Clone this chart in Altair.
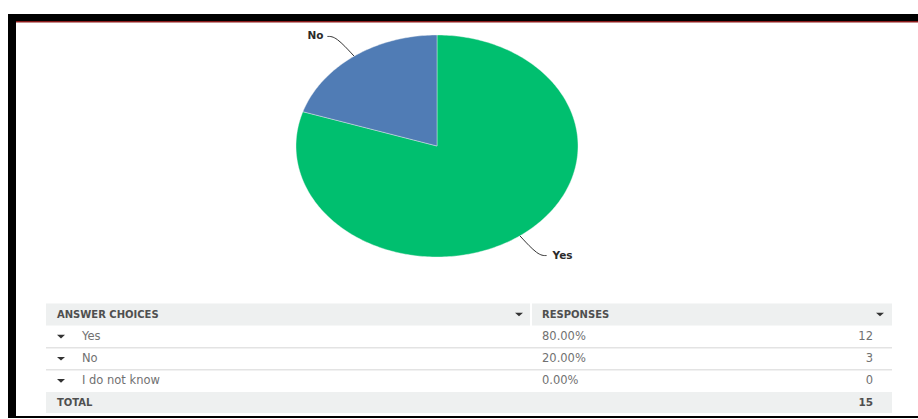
import altair as alt
import pandas as pd
import numpy as np

# ---------------- data ----------------
choices = ["Yes", "No", "I do not know"]
responses = [12, 3, 0]
percents = ["80.00%", "20.00%", "0.00%"]
total_label = "TOTAL"
total_count = 15
header_left = "ANSWER CHOICES"
header_right = "RESPONSES"
slice_colors = ["#00bf6f", "#507cb5", "#f9be00"]

FONT = "DejaVu Sans"
total = sum(responses)

# ---------------- pie geometry (elliptical pie built from the values) ----------------
pie_rows, lead_rows, lab_rows = [], [], []
cum = 0
for name, v in zip(choices, responses):
    if v <= 0:
        continue
    a0 = cum / total * 2 * np.pi
    a1 = (cum + v) / total * 2 * np.pi
    m = (a0 + a1) / 2
    cum += v
    steps = max(int(np.degrees(a1 - a0)), 2)
    pts = [(0.0, 0.0)] + [(np.sin(t), np.cos(t)) for t in np.linspace(a0, a1, steps + 1)] + [(0.0, 0.0)]
    for i, (x, y) in enumerate(pts):
        pie_rows.append(dict(cat=name, i=i, px=x, py=y))
    sx, sy = np.sin(m), np.cos(m)
    side = "right" if sx >= 0 else "left"
    sgn = 1 if sx >= 0 else -1
    lp = [(sx, sy), (1.22 * sx, 1.22 * sy), (1.22 * sx + sgn * 0.06, 1.22 * sy)]
    for i, (x, y) in enumerate(lp):
        lead_rows.append(dict(cat=name, i=i, px=x, py=y))
    lab_rows.append(dict(cat=name, px=lp[-1][0], py=lp[-1][1], side=side))

pie_df = pd.DataFrame(pie_rows)
lead_df = pd.DataFrame(lead_rows)
lab_df = pd.DataFrame(lab_rows)

xs = alt.Scale(domain=[-1, 1], range=[296, 578], nice=False, zero=False)
ys = alt.Scale(domain=[-1, 1], range=[257, 35], nice=False, zero=False)

pie = alt.Chart(pie_df).mark_line(stroke="#f4f4f4", strokeWidth=0.4).encode(
    x=alt.X("px:Q", scale=xs, axis=None),
    y=alt.Y("py:Q", scale=ys, axis=None),
    order="i:Q",
    detail="cat:N",
    fill=alt.Fill("cat:N", scale=alt.Scale(domain=choices, range=slice_colors), legend=None),
)

leaders = alt.Chart(lead_df).mark_line(color="#333333", strokeWidth=1, interpolate="basis").encode(
    x=alt.X("px:Q", scale=xs, axis=None),
    y=alt.Y("py:Q", scale=ys, axis=None),
    order="i:Q",
    detail="cat:N",
)

lab_right = alt.Chart(lab_df).transform_filter(alt.datum.side == "right").mark_text(
    align="left", baseline="middle", dx=6, font=FONT, fontSize=10.5, fontWeight="bold", color="#2b2b2b"
).encode(
    x=alt.X("px:Q", scale=xs, axis=None),
    y=alt.Y("py:Q", scale=ys, axis=None),
    text="cat:N",
)
lab_left = alt.Chart(lab_df).transform_filter(alt.datum.side == "left").mark_text(
    align="right", baseline="middle", dx=-4, font=FONT, fontSize=10.5, fontWeight="bold", color="#2b2b2b"
).encode(
    x=alt.X("px:Q", scale=xs, axis=None),
    y=alt.Y("py:Q", scale=ys, axis=None),
    text="cat:N",
)

# ---------------- table ----------------
ty = alt.Scale(domain=[0, 4], range=[314.5, 403], nice=False, zero=False)

body_df = pd.DataFrame({
    "row": [1, 2, 3],
    "choice": choices,
    "pct": percents,
    "count": [str(c) for c in responses],
})
body_df["r0"] = body_df["row"] - 0.5
body_df["r1"] = body_df["row"] + 0.5

head_df = pd.DataFrame({"row": [0], "r0": [-0.5], "r1": [0.5], "left": [header_left], "right": [header_right]})
tot_df = pd.DataFrame({"row": [4], "r0": [3.5], "r1": [4.45], "label": [total_label], "count": [str(total_count)]})
sep_df = pd.DataFrame({"b": [1.5, 2.5]})

HEAD_BG = "#eef0f0"

head_bg_l = alt.Chart(head_df).mark_rect(color=HEAD_BG).encode(
    x=alt.value(46), x2=alt.value(530),
    y=alt.Y("r0:Q", scale=ty, axis=None), y2="r1:Q")
head_bg_r = alt.Chart(head_df).mark_rect(color=HEAD_BG).encode(
    x=alt.value(532), x2=alt.value(892),
    y=alt.Y("r0:Q", scale=ty, axis=None), y2="r1:Q")
tot_bg = alt.Chart(tot_df).mark_rect(color=HEAD_BG).encode(
    x=alt.value(46), x2=alt.value(892),
    y=alt.Y("r0:Q", scale=ty, axis=None), y2="r1:Q")
seps = alt.Chart(sep_df).mark_rule(color="#e3e3e3", strokeWidth=1.5).encode(
    x=alt.value(46), x2=alt.value(892),
    y=alt.Y("b:Q", scale=ty, axis=None))

def txt(df, field, x, align="left", bold=False, color="#717171", size=11.5):
    return alt.Chart(df).mark_text(
        align=align, baseline="middle", font=FONT, fontSize=size,
        fontWeight="bold" if bold else "normal", color=color,
    ).encode(x=alt.value(x), y=alt.Y("row:Q", scale=ty, axis=None), text=f"{field}:N")

head_l = txt(head_df, "left", 57, bold=True, color="#4f4f4f", size=10)
head_r = txt(head_df, "right", 542, bold=True, color="#4f4f4f", size=10)
col_choice = txt(body_df, "choice", 82)
col_pct = txt(body_df, "pct", 542)
col_cnt = txt(body_df, "count", 873, align="right")
tot_l = txt(tot_df, "label", 57, bold=True, color="#4f4f4f", size=10)
tot_r = txt(tot_df, "count", 873, align="right", bold=True, color="#4f4f4f", size=10.5)

ARROW = "M-1,-0.45L1,-0.45L0,0.45Z"
arrows_body = alt.Chart(body_df).mark_point(shape=ARROW, filled=True, size=64, color="#333333", opacity=1).encode(
    x=alt.value(61), y=alt.Y("row:Q", scale=ty, axis=None))
arrow_h1 = alt.Chart(head_df).mark_point(shape=ARROW, filled=True, size=64, color="#333333", opacity=1).encode(
    x=alt.value(519), y=alt.Y("row:Q", scale=ty, axis=None))
arrow_h2 = alt.Chart(head_df).mark_point(shape=ARROW, filled=True, size=64, color="#333333", opacity=1).encode(
    x=alt.value(880), y=alt.Y("row:Q", scale=ty, axis=None))

# ---------------- frame ----------------
one = pd.DataFrame({"k": [0]})
top_bar = alt.Chart(one).mark_rect(color="#000000").encode(
    x=alt.value(8), x2=alt.value(918), y=alt.value(14), y2=alt.value(22))
red_line = alt.Chart(one).mark_rect(color="#8b1a1a").encode(
    x=alt.value(16), x2=alt.value(918), y=alt.value(21), y2=alt.value(22.5))
left_bar = alt.Chart(one).mark_rect(color="#000000").encode(
    x=alt.value(8), x2=alt.value(16), y=alt.value(14), y2=alt.value(418))
bottom_line = alt.Chart(one).mark_rect(color="#000000").encode(
    x=alt.value(8), x2=alt.value(918), y=alt.value(416), y2=alt.value(418))

chart = alt.layer(
    head_bg_l, head_bg_r, tot_bg, seps,
    pie, leaders, lab_right, lab_left,
    head_l, head_r, col_choice, col_pct, col_cnt, tot_l, tot_r,
    arrows_body, arrow_h1, arrow_h2,
    top_bar, red_line, left_bar, bottom_line,
).resolve_scale(
    x="independent", y="independent", fill="independent"
).properties(
    width=918, height=419, padding=0,
    autosize=alt.AutoSizeParams(type="none"),
    background="white",
).configure_view(stroke=None)

chart.save("out.html", embed_options={"renderer": "svg", "actions": False})
